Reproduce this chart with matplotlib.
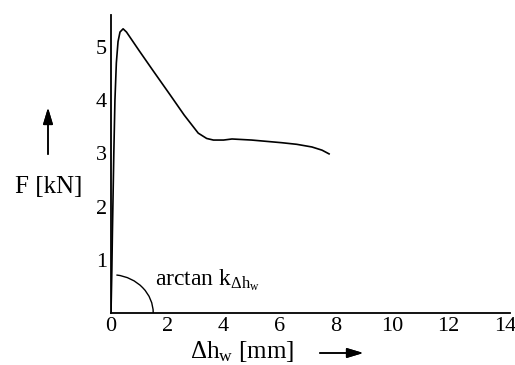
import matplotlib
matplotlib.use("Agg")
from matplotlib import pyplot as plt
from matplotlib.patches import Arc

plt.rcParams['font.family'] = ['Liberation Serif', 'DejaVu Serif']
plt.rcParams['mathtext.fontset'] = 'custom'
plt.rcParams['mathtext.rm'] = 'Liberation Serif'
plt.rcParams['mathtext.it'] = 'Liberation Serif:italic'

# force-displacement curve
dh = [0.0, 0.03, 0.05, 0.07, 0.10, 0.14, 0.19, 0.25, 0.32, 0.43, 0.55, 1.0, 1.5, 2.1, 2.6, 3.1, 3.4, 3.64, 4.0, 4.3, 5.0, 6.07, 6.6, 7.14, 7.5, 7.75]
force = [0.0, 0.8, 1.5, 2.1, 3.0, 4.0, 4.7, 5.1, 5.28, 5.34, 5.28, 4.93, 4.55, 4.1, 3.72, 3.38, 3.28, 3.25, 3.25, 3.27, 3.25, 3.2, 3.17, 3.12, 3.06, 2.99]

xticks = [0, 2, 4, 6, 8, 10, 12, 14]
yticks = [1, 2, 3, 4, 5]

fig = plt.figure(figsize=(5.15, 3.65), dpi=100)
ax = fig.add_axes([111 / 515, 1 - 313 / 365, 399 / 515, 298 / 365])

ax.plot(dh, force, color='black', lw=1.2)

# angle marker for the initial stiffness
ax.add_patch(Arc((0, 0), 2 * 1.5, 2 * 0.72, theta1=0, theta2=75, color='black', lw=1.0))
ax.text(1.55, 0.62, r'arctan k$_{\mathrm{\Delta h_w}}$', fontsize=17, va='center')

ax.set_xlim(0, 14.18)
ax.set_ylim(0, 5.6)
ax.set_xticks(xticks)
ax.set_yticks(yticks)
ax.tick_params(length=0, labelsize=16, pad=3)
for s in ['top', 'right']:
    ax.spines[s].set_visible(False)
ax.spines['left'].set_linewidth(1.3)
ax.spines['bottom'].set_linewidth(1.3)

fig.text(49 / 515, 1 - 187 / 365, 'F [kN]', fontsize=18, ha='center', va='center')
fig.text(242 / 515, 1 - 352 / 365, r'$\mathrm{\Delta h_w}$ [mm]', fontsize=18, ha='center', va='center')

arrow = dict(arrowstyle='-|>,head_length=1.0,head_width=0.3', color='black', lw=1.1)
fig.add_artist(plt.annotate('', xy=(48 / 515, 1 - 105 / 365), xytext=(48 / 515, 1 - 157 / 365),
                            xycoords='figure fraction', arrowprops=arrow))
fig.add_artist(plt.annotate('', xy=(366 / 515, 1 - 353 / 365), xytext=(317 / 515, 1 - 353 / 365),
                            xycoords='figure fraction', arrowprops=arrow))

plt.savefig('out.png', dpi=100)
